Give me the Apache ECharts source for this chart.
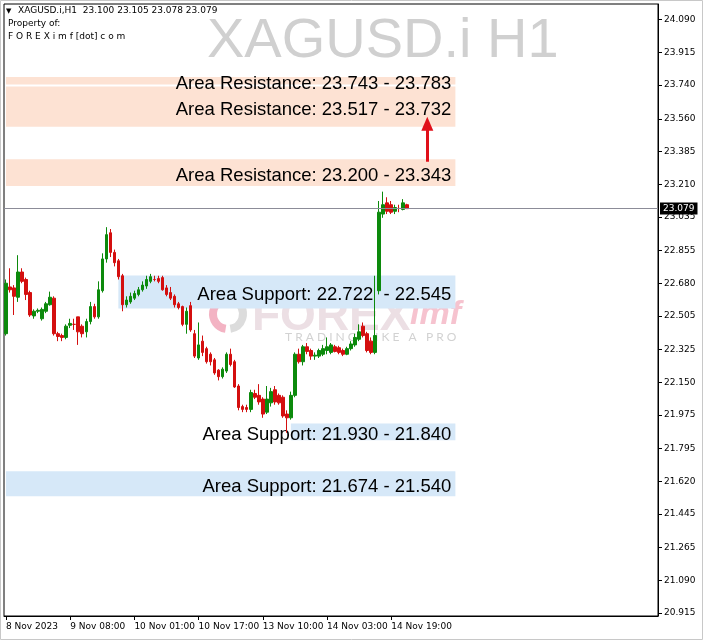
<!DOCTYPE html>
<html><head><meta charset="utf-8">
<script src="https://cdn.jsdelivr.net/npm/echarts@6/dist/echarts.min.js"></script>
<style>html,body{margin:0;padding:0;background:#fff}#c{width:703px;height:640px}</style>
</head><body><div id="c"></div>
<script>
const symbolName = 'XAGUSD.i';
const timeframe = 'H1';
const opens  = [22.41,22.66,22.655,22.605,22.74,22.70,22.63,22.505,22.53,22.49,22.53,22.565,22.60,22.41,22.40,22.39,22.455,22.46,22.50,22.45,
                22.42,22.475,22.555,22.50,22.64,22.81,22.95,22.845,22.80,22.72,22.565,22.58,22.60,22.62,22.645,22.665,22.69,22.70,22.705,22.71,
                22.655,22.63,22.61,22.57,22.555,22.46,22.56,22.41,22.28,22.37,22.33,22.30,22.27,22.215,22.18,22.21,22.30,22.26,22.13,22.02,
                22.015,22.005,22.09,22.08,22.06,21.99,22.04,22.11,22.08,22.07,21.98,21.96,22.08,22.30,22.26,22.34,22.32,22.29,22.29,22.30,
                22.32,22.31,22.34,22.335,22.32,22.30,22.33,22.35,22.38,22.45,22.41,22.37,22.31,22.64,23.05,23.11,23.10,23.065,23.08,23.075,23.100];
const closes = [22.68,22.645,22.61,22.74,22.69,22.62,22.51,22.53,22.535,22.54,22.57,22.605,22.41,22.395,22.39,22.45,22.465,22.46,22.42,22.41,
                22.475,22.555,22.50,22.645,22.81,22.94,22.845,22.79,22.715,22.565,22.59,22.61,22.625,22.645,22.67,22.70,22.715,22.70,22.69,22.645,
                22.62,22.60,22.565,22.55,22.46,22.53,22.43,22.29,22.35,22.31,22.26,22.26,22.20,22.18,22.22,22.30,22.245,22.125,22.015,22.005,
                22.005,22.095,22.07,22.045,21.98,22.06,22.10,22.045,22.04,21.97,21.96,22.08,22.30,22.26,22.34,22.315,22.29,22.295,22.32,22.33,
                22.34,22.35,22.315,22.31,22.30,22.33,22.355,22.39,22.42,22.40,22.32,22.31,22.40,23.06,23.10,23.065,23.06,23.085,23.08,23.11,23.079];
const lows   = [22.40,22.63,22.51,22.58,22.68,22.59,22.50,22.49,22.52,22.48,22.52,22.56,22.40,22.37,22.37,22.38,22.44,22.43,22.35,22.39,
                22.39,22.46,22.49,22.49,22.63,22.79,22.82,22.77,22.70,22.53,22.55,22.57,22.59,22.61,22.635,22.65,22.68,22.69,22.68,22.64,
                22.61,22.59,22.55,22.54,22.45,22.41,22.42,22.28,22.27,22.29,22.25,22.24,22.19,22.16,22.17,22.20,22.235,22.12,22.00,21.99,
                21.99,21.99,22.06,22.03,21.96,21.98,22.02,22.03,22.03,21.96,21.88,21.95,22.07,22.25,22.24,22.30,22.27,22.27,22.28,22.29,
                22.30,22.30,22.31,22.30,22.29,22.295,22.32,22.34,22.37,22.39,22.31,22.30,22.30,22.62,23.03,23.05,23.05,23.05,23.06,23.07,23.078];
const highs  = [22.70,22.76,22.67,22.83,22.76,22.71,22.64,22.54,22.545,22.55,22.58,22.635,22.61,22.42,22.41,22.46,22.49,22.49,22.50,22.46,
                22.49,22.58,22.57,22.69,22.84,22.98,22.97,22.86,22.81,22.73,22.61,22.63,22.64,22.66,22.69,22.72,22.73,22.72,22.72,22.72,
                22.67,22.66,22.62,22.58,22.56,22.55,22.58,22.43,22.47,22.40,22.34,22.31,22.28,22.22,22.23,22.31,22.33,22.27,22.14,22.03,
                22.03,22.11,22.11,22.14,22.07,22.13,22.12,22.13,22.09,22.08,22.00,22.10,22.31,22.33,22.35,22.36,22.33,22.31,22.33,22.35,
                22.39,22.36,22.35,22.345,22.33,22.34,22.37,22.41,22.46,22.47,22.42,22.39,22.72,23.12,23.17,23.14,23.12,23.10,23.10,23.13,23.105];
const timeLabels = ['8 Nov 2023','9 Nov 08:00','10 Nov 01:00','10 Nov 17:00','13 Nov 10:00','14 Nov 03:00','14 Nov 19:00'];
const barsPerLabel = 16;
const totalSlots = 163;
const priceTicks = [20.915,21.090,21.265,21.445,21.620,21.795,21.975,22.150,22.325,22.505,22.680,22.855,23.035,23.210,23.385,23.560,23.740,23.915,24.090];
const zoneKind  = ['Resistance','Resistance','Resistance','Support','Support','Support'];
const zoneA     = [23.743,23.517,23.200,22.722,21.930,21.674];
const zoneB     = [23.783,23.732,23.343,22.545,21.840,21.540];
const zoneSep   = [' - ',' - ',' - ','  - ',' - ',' - '];
const zoneStart = [0,0,0,28,71,0];
const zoneEnd   = [112,112,112,112,112,112];
const arrowBar = 105, arrowFrom = 23.33, arrowTo = 23.533;

const GREEN = '#0c8a0c', RED = '#d40f0f';
const PEACH = '#fde2d3', BLUE = '#d6e8f8';
const lastIdx = opens.length - 1;
const lastClose = closes[lastIdx];

const chart = echarts.init(document.getElementById('c'), null, {renderer: 'canvas'});
const cats = Array.from({length: totalSlots}, (_, i) => String(i));
const showIdx = (i) => i % barsPerLabel === 0 && (i / barsPerLabel) < timeLabels.length;

const areaData = zoneKind.map((k, i) => {
  const hi = Math.max(zoneA[i], zoneB[i]), lo = Math.min(zoneA[i], zoneB[i]);
  return [
    {name: 'Area ' + k + ': ' + zoneA[i].toFixed(3) + zoneSep[i] + zoneB[i].toFixed(3),
     xAxis: zoneStart[i], yAxis: hi, itemStyle: {color: k === 'Resistance' ? PEACH : BLUE}},
    {xAxis: zoneEnd[i], yAxis: lo}
  ];
});

const option = {
  animation: false,
  backgroundColor: '#fff',
  grid: {left: 4, right: 45, top: 4, bottom: 24, show: true, borderColor: '#000', borderWidth: 1},
  xAxis: {
    type: 'category', data: cats, boundaryGap: true,
    axisLine: {show: true, lineStyle: {color: '#000', width: 1}},
    axisTick: {show: true, alignWithLabel: true, length: 4, interval: (i) => showIdx(i), lineStyle: {color: '#000'}},
    axisLabel: {show: true, interval: (i) => showIdx(i), align: 'left', margin: 6,
      fontFamily: 'DejaVu Sans', fontSize: 9, color: '#000',
      formatter: (v, i) => timeLabels[Math.round(Number(v) / barsPerLabel)]},
    splitLine: {show: false}
  },
  yAxis: {
    type: 'value', position: 'right', min: 20.8995, max: 24.174, scale: true,
    axisLine: {show: true, lineStyle: {color: '#000'}},
    axisTick: {show: true, inside: false, length: 4, customValues: priceTicks, lineStyle: {color: '#000'}},
    axisLabel: {show: true, customValues: priceTicks, margin: 6, fontFamily: 'DejaVu Sans', fontSize: 9, color: '#000',
      formatter: (v) => Number(v).toFixed(3)},
    splitLine: {show: false}
  },
  graphic: [
    {type: 'rect', z: 100, shape: {x: 0.5, y: 0.5, width: 702, height: 639}, style: {fill: null, stroke: '#c8c8c8', lineWidth: 1}},
    {type: 'text', z: 0, left: 207, top: 14, style: {text: symbolName + ' ' + timeframe, font: '56px "Liberation Sans"', fill: '#d0d0d0'}},
    {type: 'arc', z: 0, shape: {cx: 228, cy: 314, r: 15, startAngle: Math.PI * 0.55, endAngle: Math.PI * 1.6}, style: {stroke: '#f3b3c3', lineWidth: 8, fill: null}},
    {type: 'arc', z: 0, shape: {cx: 228, cy: 314, r: 15, startAngle: Math.PI * 1.6, endAngle: Math.PI * 2.45}, style: {stroke: '#dcdcdc', lineWidth: 8, fill: null}},
    {type: 'text', z: 0, left: 252, top: 294, style: {text: 'FOREX', font: 'bold 46px "Liberation Sans"', fill: '#ecdfe4'}},
    {type: 'text', z: 0, left: 410, top: 298, style: {text: 'imf', font: 'italic bold 34px "Liberation Sans"', fill: '#f6c3cf'}},
    {type: 'text', z: 0, left: 285, top: 331, style: {text: 'T R A D I N G   L I K E   A   P R O', font: '12px Lato', fill: '#d2d2d2'}},
    {type: 'text', z: 5, left: 6, top: 8, style: {text: '\u25BC', font: '7px "DejaVu Sans"', fill: '#000'}},
    {type: 'text', z: 5, left: 18, top: 6, style: {text: symbolName + ',' + timeframe + '  ' + [opens[lastIdx], highs[lastIdx], lows[lastIdx], closes[lastIdx]].map(v => v.toFixed(3)).join(' '), font: '9px "DejaVu Sans"', fill: '#000'}},
    {type: 'text', z: 5, left: 8, top: 19, style: {text: 'Property of:', font: '9px "DejaVu Sans"', fill: '#000'}},
    {type: 'text', z: 5, left: 8, top: 32, style: {text: 'F O R E X i m f [dot] c o m', font: '9px "DejaVu Sans"', fill: '#000'}}
  ],
  series: [{
    type: 'candlestick',
    data: opens.map((o, i) => [o, closes[i], lows[i], highs[i]]),
    barWidth: 3,
    itemStyle: {color: GREEN, color0: RED, borderColor: GREEN, borderColor0: RED, borderWidth: 1},
    markArea: {
      silent: true,
      itemStyle: {opacity: 1, borderWidth: 0},
      label: {show: true, position: 'insideRight', distance: 4, offset: [0, 3], formatter: '{b}',
        fontFamily: 'Liberation Sans', fontSize: 18.5, color: '#000'},
      data: areaData
    },
    markLine: {
      silent: true, symbol: 'none',
      data: [
        {yAxis: lastClose, symbol: 'none',
         lineStyle: {color: '#8c8c98', width: 1, type: 'solid'},
         label: {show: true, position: 'end', distance: 2, formatter: lastClose.toFixed(3),
           backgroundColor: '#000', color: '#fff', padding: [2, 3, 1, 3], fontFamily: 'DejaVu Sans', fontSize: 9}},
        [{xAxis: arrowBar, yAxis: arrowFrom, symbol: 'none', label: {show: false}, lineStyle: {color: '#e0101a', width: 3, type: 'solid'}},
         {xAxis: arrowBar, yAxis: arrowTo, symbol: 'triangle', symbolSize: [12, 14], label: {show: false}}]
      ]
    }
  }]
};
chart.setOption(option);
</script></body></html>
